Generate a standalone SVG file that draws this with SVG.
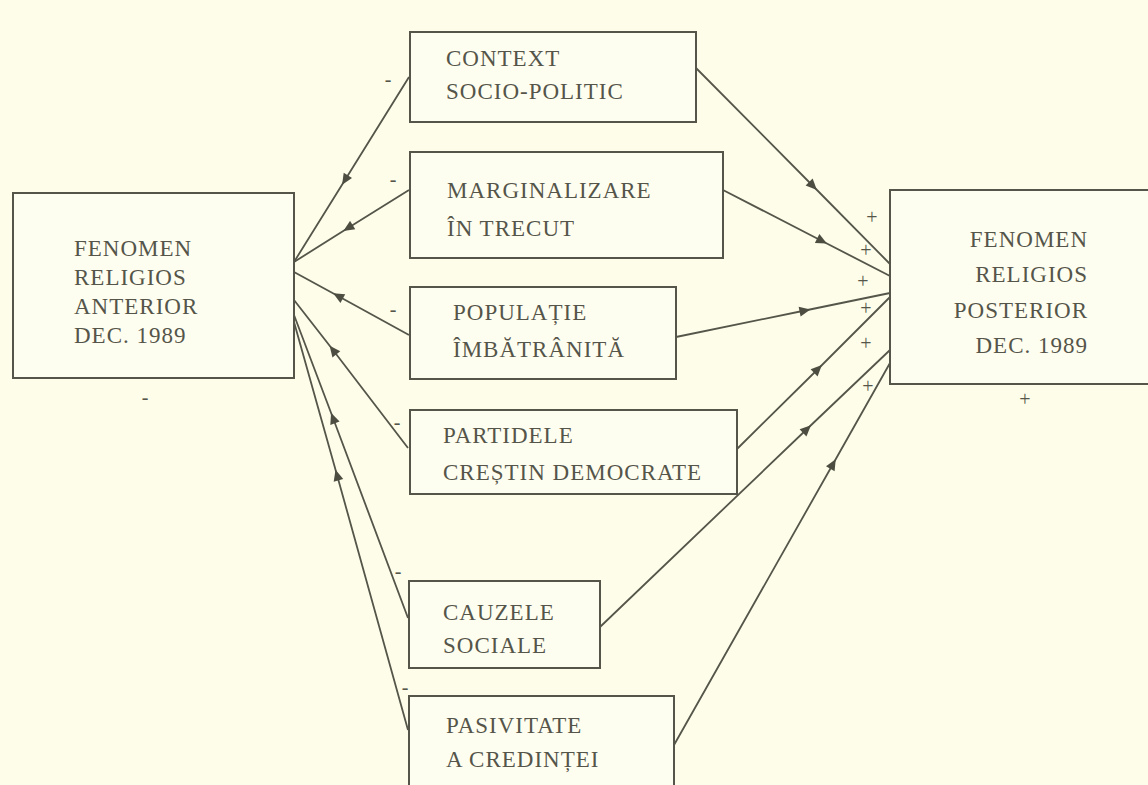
<svg xmlns="http://www.w3.org/2000/svg" width="1148" height="785" viewBox="0 0 1148 785">
<style>
.bg{fill:#fdfde9}
.box{fill:#fefef0;stroke:#55554a;stroke-width:2}
.t{font-family:"Liberation Serif","Times New Roman",serif;font-size:23px;letter-spacing:1px;fill:#55554a}
.r{text-anchor:end}
.sign{font-family:"Liberation Serif","Times New Roman",serif;font-size:20px;fill:#55554a;text-anchor:middle}
.c{fill:none;stroke:#55554a;stroke-width:1.8;marker-mid:url(#ah)}
</style>
<defs>
<marker id="ah" viewBox="0 0 10 10" refX="5" refY="5" markerWidth="12" markerHeight="11" markerUnits="userSpaceOnUse" orient="auto">
<path d="M0,0.5 L10,5 L0,9.5 z" fill="#4d4d42"/>
</marker>
</defs>
<rect class="bg" x="0" y="0" width="1148" height="785"/>
<g id="connectors">
<path class="c" d="M409,77 L345,180 L294,262"/>
<path class="c" d="M409,190 L348,228 L294,262"/>
<path class="c" d="M409,335 L338,296 L294,272"/>
<path class="c" d="M408,448 L333,350 L294,300"/>
<path class="c" d="M408,618 L333,418 L294,315"/>
<path class="c" d="M408,730 L337,475 L294,322"/>
<path class="c" d="M696,68 L813,186 L890,264"/>
<path class="c" d="M723,190 L822,241 L890,276"/>
<path class="c" d="M676,337 L805,310.5 L890,293"/>
<path class="c" d="M737,449 L818,369 L890,297"/>
<path class="c" d="M600,627 L807,429 L890,350"/>
<path class="c" d="M674,745 L833,464 L890,363"/>
<text class="sign" x="388" y="86">-</text>
<text class="sign" x="393" y="186">-</text>
<text class="sign" x="393" y="316">-</text>
<text class="sign" x="397" y="429">-</text>
<text class="sign" x="398" y="578">-</text>
<text class="sign" x="405" y="694">-</text>
<text class="sign" x="145" y="404">-</text>
<text class="sign" x="872" y="224">+</text>
<text class="sign" x="866" y="257">+</text>
<text class="sign" x="863" y="288">+</text>
<text class="sign" x="866" y="315">+</text>
<text class="sign" x="866" y="350">+</text>
<text class="sign" x="868" y="393">+</text>
<text class="sign" x="1025" y="406">+</text>
</g>
<g id="anterior">
<rect class="box" x="13" y="193" width="281" height="185"/>
<text class="t" x="74" y="256">FENOMEN</text>
<text class="t" x="74" y="285">RELIGIOS</text>
<text class="t" x="74" y="314">ANTERIOR</text>
<text class="t" x="74" y="343">DEC. 1989</text>
</g>
<g id="posterior">
<rect class="box" x="890" y="190" width="270" height="194"/>
<text class="t r" x="1088" y="247">FENOMEN</text>
<text class="t r" x="1088" y="282">RELIGIOS</text>
<text class="t r" x="1088" y="318">POSTERIOR</text>
<text class="t r" x="1088" y="353">DEC. 1989</text>
</g>
<g id="context">
<rect class="box" x="410" y="32" width="286" height="90"/>
<text class="t" x="446" y="66">CONTEXT</text>
<text class="t" x="446" y="99">SOCIO-POLITIC</text>
</g>
<g id="marginalizare">
<rect class="box" x="410" y="152" width="313" height="106"/>
<text class="t" x="447" y="198">MARGINALIZARE</text>
<text class="t" x="447" y="236">ÎN TRECUT</text>
</g>
<g id="populatie">
<rect class="box" x="410" y="287" width="266" height="92"/>
<text class="t" x="453" y="320">POPULAȚIE</text>
<text class="t" x="453" y="357">ÎMBĂTRÂNITĂ</text>
</g>
<g id="partidele">
<rect class="box" x="410" y="410" width="327" height="84"/>
<text class="t" x="443" y="443">PARTIDELE</text>
<text class="t" x="443" y="480">CREȘTIN  DEMOCRATE</text>
</g>
<g id="cauzele">
<rect class="box" x="409" y="581" width="191" height="87"/>
<text class="t" x="443" y="620">CAUZELE</text>
<text class="t" x="443" y="653">SOCIALE</text>
</g>
<g id="pasivitate">
<rect class="box" x="409" y="696" width="265" height="100"/>
<text class="t" x="446" y="733">PASIVITATE</text>
<text class="t" x="446" y="767">A CREDINȚEI</text>
</g>
</svg>
